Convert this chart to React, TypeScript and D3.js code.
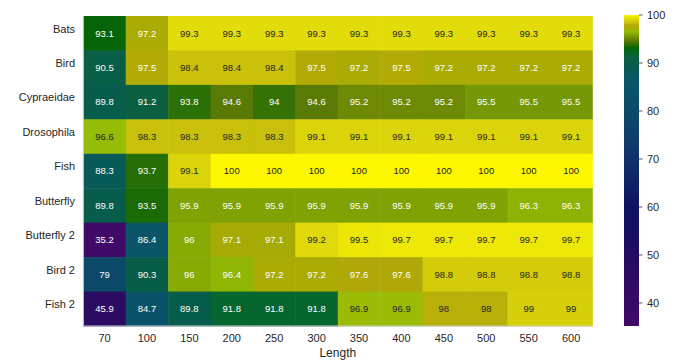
import React from "react";
import * as d3 from "d3";

// Row and column labels
const rowNames = ["Bats", "Bird", "Cypraeidae", "Drosophila", "Fish", "Butterfly", "Butterfly 2", "Bird 2", "Fish 2"];
const lengths = [70, 100, 150, 200, 250, 300, 350, 400, 450, 500, 550, 600];

// Accuracy values per row, one per length
const bats = [93.1, 97.2, 99.3, 99.3, 99.3, 99.3, 99.3, 99.3, 99.3, 99.3, 99.3, 99.3];
const bird = [90.5, 97.5, 98.4, 98.4, 98.4, 97.5, 97.2, 97.5, 97.2, 97.2, 97.2, 97.2];
const cypraeidae = [89.8, 91.2, 93.8, 94.6, 94, 94.6, 95.2, 95.2, 95.2, 95.5, 95.5, 95.5];
const drosophila = [96.6, 98.3, 98.3, 98.3, 98.3, 99.1, 99.1, 99.1, 99.1, 99.1, 99.1, 99.1];
const fish = [88.3, 93.7, 99.1, 100, 100, 100, 100, 100, 100, 100, 100, 100];
const butterfly = [89.8, 93.5, 95.9, 95.9, 95.9, 95.9, 95.9, 95.9, 95.9, 95.9, 96.3, 96.3];
const butterfly2 = [35.2, 86.4, 96, 97.1, 97.1, 99.2, 99.5, 99.7, 99.7, 99.7, 99.7, 99.7];
const bird2 = [79, 90.3, 96, 96.4, 97.2, 97.2, 97.6, 97.6, 98.8, 98.8, 98.8, 98.8];
const fish2 = [45.9, 84.7, 89.8, 91.8, 91.8, 91.8, 96.9, 96.9, 98, 98, 99, 99];

const matrix = [bats, bird, cypraeidae, drosophila, fish, butterfly, butterfly2, bird2, fish2];

// Colour bar ticks and range
const colorTicks = [40, 50, 60, 70, 80, 90, 100];
const vMin = 35.2;
const vMax = 100;

// Piecewise colormap anchors
const cmapStops = [35.2, 45.9, 55, 60, 70, 79, 84.7, 86.4, 88.3, 89.8, 90.5, 91.2, 91.8, 93.1, 93.5, 93.8, 94, 94.6, 95.2, 95.5, 95.9, 96, 96.4, 96.6, 96.9, 97.1, 97.2, 97.5, 97.6, 98, 98.3, 98.8, 99, 99.1, 99.3, 99.5, 99.7, 100];
const cmapColors = ["#420a68", "#2c0b62", "#160e60", "#0f1262", "#10326a", "#0c4868", "#0a5268", "#0a5668", "#085a58", "#075c4c", "#085e46", "#0a6040", "#076530", "#066508", "#1a6a06", "#2c7008", "#357205", "#5a7a06", "#6e8a04", "#749806", "#80a204", "#88aa04", "#90b605", "#96bc08", "#9cbb06", "#a6aa04", "#aaab05", "#b2aa05", "#b0a808", "#b8b008", "#c8c00a", "#d4cc0a", "#d6d00a", "#dcd40a", "#e2dc0a", "#ece606", "#eee808", "#fcf600"];

const W = 678;
const H = 360;
const M = { left: 83.3, top: 16, right: 592.3, bottom: 326 };
const cb = { x: 624, w: 15, top: 15, bottom: 326 };
const FONT = "'Liberation Sans', Arial, sans-serif";
const TEXT = "#262626";

const color = d3.scaleLinear<string>().domain(cmapStops).range(cmapColors).interpolate(d3.interpolateRgb).clamp(true);

function luminance(c: string) {
  const rgb = d3.rgb(c);
  const lin = (v: number) => {
    const s = v / 255;
    return s <= 0.03928 ? s / 12.92 : Math.pow((s + 0.055) / 1.055, 2.4);
  };
  return 0.2126 * lin(rgb.r) + 0.7152 * lin(rgb.g) + 0.0722 * lin(rgb.b);
}

export default function App() {
  const x = d3.scaleBand<number>().domain(lengths).range([M.left, M.right]);
  const y = d3.scaleBand<string>().domain(rowNames).range([M.top, M.bottom]);
  const cy = d3.scaleLinear().domain([vMin, vMax]).range([cb.bottom, cb.top]);

  const gradStops = d3.range(0, 201).map((i) => {
    const v = vMin + ((vMax - vMin) * i) / 200;
    return { offset: i / 200, c: color(v) };
  });

  return (
    <svg width={W} height={H} style={{ position: "absolute", left: 0, top: 0, background: "#fff" }}>
      <defs>
        <linearGradient id="cbar" x1="0" y1="1" x2="0" y2="0">
          {gradStops.map((s, i) => (
            <stop key={i} offset={s.offset} stopColor={s.c} />
          ))}
        </linearGradient>
      </defs>

      {matrix.map((row, ri) =>
        row.map((v, ci) => {
          const fill = color(v);
          const tc = luminance(fill) > 0.408 ? TEXT : "#ffffff";
          const cx = (x(lengths[ci]) as number) + x.bandwidth() / 2;
          const cyy = (y(rowNames[ri]) as number) + y.bandwidth() / 2;
          return (
            <g key={`${ri}-${ci}`}>
              <rect x={x(lengths[ci])} y={y(rowNames[ri])} width={x.bandwidth() + 0.5} height={y.bandwidth() + 0.5} fill={fill} />
              <text x={cx} y={cyy} dy="0.35em" textAnchor="middle" fontFamily={FONT} fontSize={9.5} fill={tc}>
                {String(v)}
              </text>
            </g>
          );
        })
      )}

      {/* axis edges */}
      <line x1={M.left} x2={M.left} y1={M.top} y2={M.bottom} stroke="#cdd3da" strokeWidth={1} />
      <line x1={M.left} x2={M.right} y1={M.bottom} y2={M.bottom} stroke="#cdd3da" strokeWidth={1} />

      {/* row labels */}
      {rowNames.map((r) => (
        <text key={r} x={75} y={(y(r) as number) + y.bandwidth() / 2 - 4.5} dy="0.35em" textAnchor="end" fontFamily={FONT} fontSize={11} fill={TEXT}>
          {r}
        </text>
      ))}

      {/* column labels */}
      {lengths.map((l) => (
        <text key={l} x={(x(l) as number) + x.bandwidth() / 2} y={338} dy="0.35em" textAnchor="middle" fontFamily={FONT} fontSize={11} fill={TEXT}>
          {l}
        </text>
      ))}
      <text x={(M.left + M.right) / 2} y={353} dy="0.35em" textAnchor="middle" fontFamily={FONT} fontSize={12} fill={TEXT}>
        Length
      </text>

      {/* colour bar */}
      <rect x={cb.x} y={cb.top} width={cb.w} height={cb.bottom - cb.top} fill="url(#cbar)" />
      {colorTicks.map((t) => (
        <g key={t}>
          <line x1={cb.x + cb.w} x2={cb.x + cb.w + 3.5} y1={cy(t)} y2={cy(t)} stroke={TEXT} strokeWidth={0.8} />
          <text x={cb.x + cb.w + 8} y={cy(t)} dy="0.35em" fontFamily={FONT} fontSize={11} fill={TEXT}>
            {t}
          </text>
        </g>
      ))}
    </svg>
  );
}
